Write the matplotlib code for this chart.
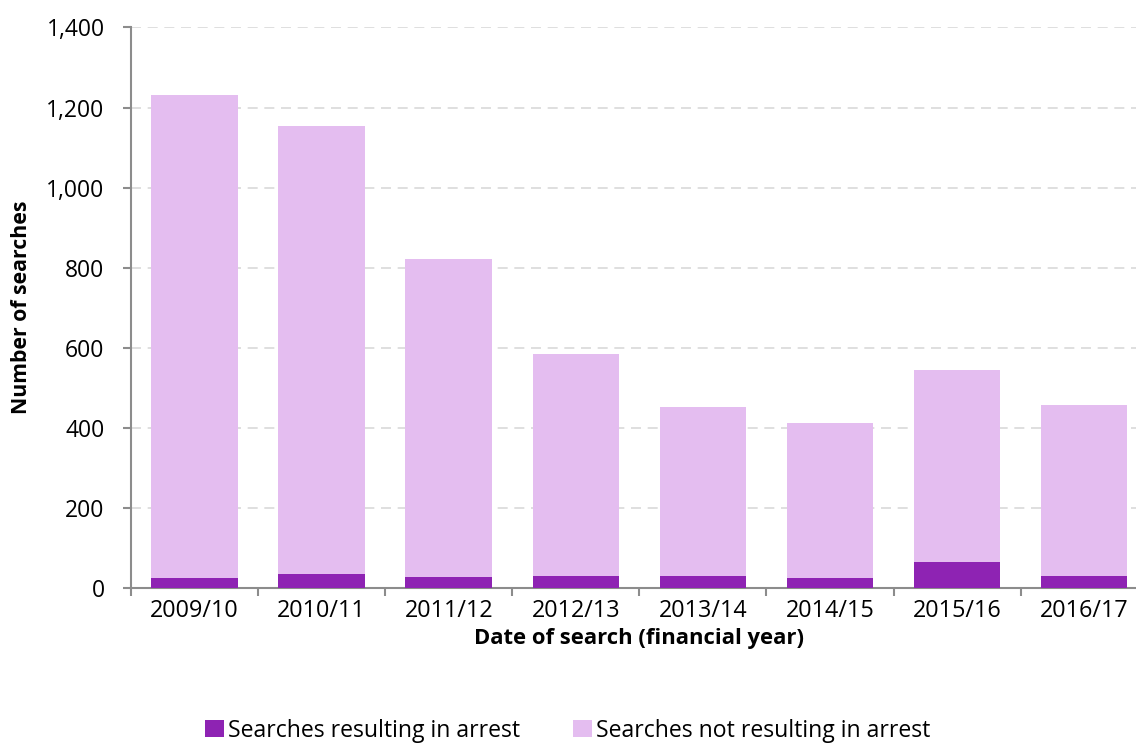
import numpy as np
import matplotlib.pyplot as plt
from matplotlib.ticker import FuncFormatter, FixedLocator

# dados
anos = ["2009/10", "2010/11", "2011/12", "2012/13", "2013/14", "2014/15", "2015/16", "2016/17"]
com_prisao = [24, 34, 27, 29, 29, 24, 64, 29]
total = [1232, 1154, 822, 584, 452, 412, 544, 457]
sem_prisao = [t - c for t, c in zip(total, com_prisao)]

cor_escura = "#8E23B3"
cor_clara = "#E4BDF0"

plt.rcParams['font.family'] = ['Open Sans', 'DejaVu Sans']

fig = plt.figure(figsize=(11.36, 7.47), dpi=100)
ax = fig.add_axes([0.1153, 0.2133, 0.8950, 0.7499])

x = np.arange(len(anos))
ax.bar(x, com_prisao, width=0.68, color=cor_escura, label="Searches resulting in arrest", zorder=3)
ax.bar(x, sem_prisao, width=0.68, bottom=com_prisao, color=cor_clara,
       label="Searches not resulting in arrest", zorder=3)

ax.set_xlim(-0.5, len(anos) - 0.5)
ax.set_ylim(0, 1400)
ax.set_yticks(range(0, 1401, 200))
ax.yaxis.set_major_formatter(FuncFormatter(lambda v, p: f"{int(v):,}"))
ax.grid(axis="y", color="#d9d9d9", linestyle=(0, (6, 4)), linewidth=1.2, zorder=0)

ax.set_xticks(x)
ax.set_xticklabels(anos)
ax.xaxis.set_minor_locator(FixedLocator(np.arange(-0.5, len(anos), 1.0)))
ax.tick_params(axis="x", which="major", length=0, pad=8, labelsize=16.8)
ax.tick_params(axis="x", which="minor", length=6, width=1.5, color="#8c8c8c")
ax.tick_params(axis="y", length=6, width=1.5, color="#8c8c8c", labelsize=16.5, pad=13)

for s in ["top", "right"]:
    ax.spines[s].set_visible(False)
for s in ["left", "bottom"]:
    ax.spines[s].set_color("#8c8c8c")
    ax.spines[s].set_linewidth(1.5)

ax.set_ylabel("Number of searches", fontsize=15.3, fontweight="bold", labelpad=10)
ax.set_xlabel("Date of search (financial year)", fontsize=15.8, fontweight="bold", labelpad=4)

fig.legend(loc="lower center", bbox_to_anchor=(0.5, -0.022), ncol=2, frameon=False,
           fontsize=16.6, handlelength=0.8, handleheight=0.8, handletextpad=0.2,
           columnspacing=2.3)

fig.savefig("out.png", dpi=100)
